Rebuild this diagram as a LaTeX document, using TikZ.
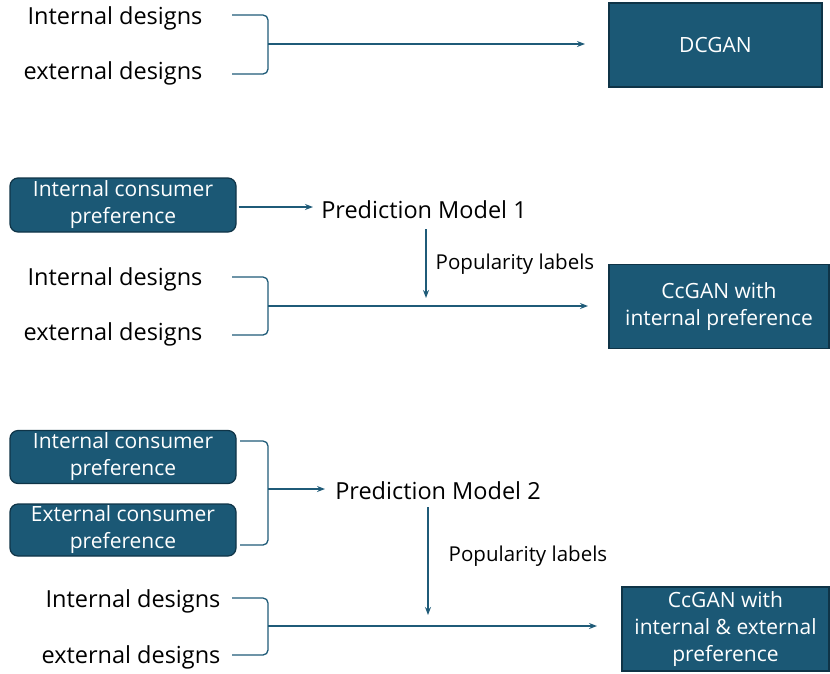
\documentclass[tikz,border=0pt]{standalone}
\usepackage{fontspec}
\setmainfont{Open Sans}
\usetikzlibrary{arrows.meta,positioning}
\definecolor{boxfill}{HTML}{1B5875}
\definecolor{boxedge}{HTML}{0F3447}
\definecolor{linec}{HTML}{1F5B78}
\tikzset{
  txt/.style={font=\fontsize{23.5}{28}\selectfont, text=black, inner sep=0pt},
  ltxt/.style={font=\fontsize{20.5}{24}\selectfont, text=black, inner sep=0pt},
  sqbox/.style={draw=boxedge, fill=boxfill, line width=1.2pt, text=white, align=center,
     font=\fontsize{21}{27}\selectfont, inner sep=0pt},
  rbox/.style={sqbox, rounded corners=8pt, font=\fontsize{21}{27}\selectfont},
  conn/.style={draw=linec, line width=1.3pt, -{Stealth[length=8pt,width=6pt]}},
  brk/.style={draw=linec, line width=1.3pt, rounded corners=5pt},
}
\begin{document}
\begin{tikzpicture}[x=1pt,y=-1pt]
\useasboundingbox (0,0) rectangle (830,673);
% Section 1
\node[txt] (i1) at (115,18.5) {Internal designs};
\node[txt] (e1) at (113,73.5) {external designs};
\node[sqbox, minimum width=213pt, minimum height=84pt] (dc) at (715.5,45) {DCGAN};
\coordinate (b1a) at (232,15);
\coordinate (b1b) at (232,74);
\coordinate (m1) at (268,44);
\draw[brk] (b1a) -- (268,15) -- (268,74) -- (b1b);
\draw[conn] (m1) -- (585,44);
% Section 2
\node[rbox, minimum width=226pt, minimum height=54pt] (ic2) at (123,205) {Internal consumer\\preference};
\node[txt] (pm1) at (424,209.5) {Prediction Model 1};
\draw[conn] (ic2.east) ++(2,2) coordinate (s2) -- (313,207) coordinate (t2);
\node[txt] (i2) at (115,279.5) {Internal designs};
\node[txt] (e2) at (113,334.5) {external designs};
\coordinate (b2a) at (232,277);
\coordinate (b2b) at (232,335);
\draw[brk] (b2a) -- (268,277) -- (268,335) -- (b2b);
\node[sqbox, minimum width=220pt, minimum height=84pt] (cc1) at (719,306.5) {CcGAN with\\internal preference};
\draw[conn] (268,306) -- (588,306);
\draw[conn] (426,229) -- (426,298);
\node[ltxt] (pl1) at (515,264) {Popularity labels};
% Section 3
\node[rbox, minimum width=226pt, minimum height=53pt] (ic3) at (123,457) {Internal consumer\\preference};
\node[rbox, minimum width=226pt, minimum height=52pt] (ec3) at (123,530) {External consumer\\preference};
\draw[brk] (240,441) -- (268,441) -- (268,545) -- (240,545);
\draw[conn] (268,489) -- (325,489);
\node[txt] (pm2) at (438,490.5) {Prediction Model 2};
\draw[conn] (428,507) -- (428,615);
\node[ltxt] (pl2) at (528,556) {Popularity labels};
\node[txt] (i3) at (133,601.5) {Internal designs};
\node[txt] (e3) at (131,657.5) {external designs};
\draw[brk] (232,598) -- (268,598) -- (268,655) -- (232,655);
\draw[conn] (268,626) -- (597,626);
\node[sqbox, minimum width=207pt, minimum height=84pt] (cc2) at (725.5,629) {CcGAN with\\internal \& external\\preference};
\end{tikzpicture}
\end{document}
